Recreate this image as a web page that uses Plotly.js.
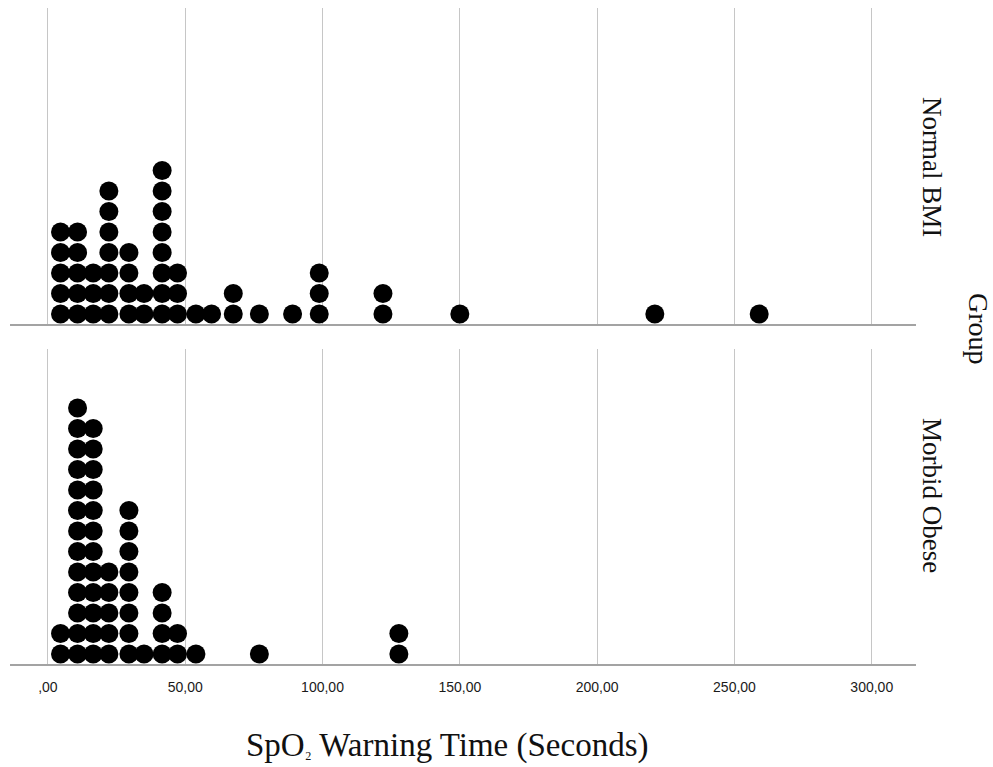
<!DOCTYPE html>
<html>
<head>
<meta charset="utf-8">
<script src="https://cdn.plot.ly/plotly-3.0.1.min.js"></script>
<style>html,body{margin:0;padding:0;background:#fff;}#chart{width:993px;height:767px;}</style>
</head>
<body>
<div id="chart"></div>
<script>
// Bin positions (seconds) and number of stacked dots per bin
const normalX = [4.6, 10.8, 16.5, 22.2, 29.5, 35.0, 41.6, 47.2, 53.9, 59.6, 67.5, 77.0, 89.1, 98.8, 122.0, 150.0, 221.0, 259.0];
const normalN = [5, 5, 3, 7, 4, 2, 8, 3, 1, 1, 2, 1, 1, 3, 2, 1, 1, 1];
const obeseX = [4.6, 10.8, 16.5, 22.2, 29.5, 35.0, 41.6, 47.2, 53.9, 77.0, 127.8];
const obeseN = [2, 13, 12, 5, 8, 1, 4, 2, 1, 1, 2];
const tickVals = [0, 50, 100, 150, 200, 250, 300];
const tickText = [",00", "50,00", "100,00", "150,00", "200,00", "250,00", "300,00"];
const groupLabels = ["Normal BMI", "Morbid Obese"];

function stack(xs, ns) {
  const px = [], py = [];
  xs.forEach((x, i) => { for (let k = 1; k <= ns[i]; k++) { px.push(x); py.push(k); } });
  return {px, py};
}
const a = stack(normalX, normalN);
const b = stack(obeseX, obeseN);
const marker = {color: '#000', size: 19, symbol: 'circle', line: {width: 0}};

const traces = [
  {x: a.px, y: a.py, type: 'scatter', mode: 'markers', marker: marker, xaxis: 'x2', yaxis: 'y2', hoverinfo: 'x'},
  {x: b.px, y: b.py, type: 'scatter', mode: 'markers', marker: marker, xaxis: 'x', yaxis: 'y', hoverinfo: 'x'}
];

const xBase = {
  range: [-13.8, 316.1], tickvals: tickVals, ticktext: tickText,
  showgrid: true, gridcolor: '#c6c6c6', gridwidth: 1,
  showline: true, linecolor: '#a3a3a3', linewidth: 2,
  zeroline: false, ticks: '', fixedrange: true
};
const layout = {
  width: 993, height: 767,
  margin: {l: 10, r: 77, t: 8, b: 103},
  paper_bgcolor: '#fff', plot_bgcolor: '#fff',
  showlegend: false,
  xaxis: Object.assign({}, xBase, {anchor: 'y', domain: [0, 1], showticklabels: true,
    tickfont: {family: 'Liberation Sans, Arial, sans-serif', size: 14, color: '#1a1a1a'}, ticklabelstandoff: 9}),
  xaxis2: Object.assign({}, xBase, {anchor: 'y2', domain: [0, 1], matches: 'x', showticklabels: false}),
  yaxis: {domain: [0, 0.4802], range: [0.512, 15.88], visible: false, fixedrange: true},
  yaxis2: {domain: [0.5183, 1], range: [0.512, 15.93], visible: false, fixedrange: true},
  annotations: [
    {text: 'SpO<span style="font-size:20px">₂</span> Warning Time (Seconds)', xref: 'paper', yref: 'paper', x: 0.4834, y: -0.1235,
     xanchor: 'center', yanchor: 'middle', showarrow: false,
     font: {family: 'Liberation Serif, Times New Roman, serif', size: 33, color: '#111'}},
    {text: groupLabels[0], xref: 'paper', yref: 'paper', x: 1.0177, y: 0.7576, textangle: 90,
     xanchor: 'center', yanchor: 'middle', showarrow: false,
     font: {family: 'Liberation Serif, Times New Roman, serif', size: 27, color: '#111'}},
    {text: groupLabels[1], xref: 'paper', yref: 'paper', x: 1.0177, y: 0.2576, textangle: 90,
     xanchor: 'center', yanchor: 'middle', showarrow: false,
     font: {family: 'Liberation Serif, Times New Roman, serif', size: 27, color: '#111'}},
    {text: 'Group', xref: 'paper', yref: 'paper', x: 1.0684, y: 0.5107, textangle: 90,
     xanchor: 'center', yanchor: 'middle', showarrow: false,
     font: {family: 'Liberation Serif, Times New Roman, serif', size: 28, color: '#111'}}
  ]
};
Plotly.newPlot('chart', traces, layout, {staticPlot: true, displayModeBar: false});
</script>
</body>
</html>
